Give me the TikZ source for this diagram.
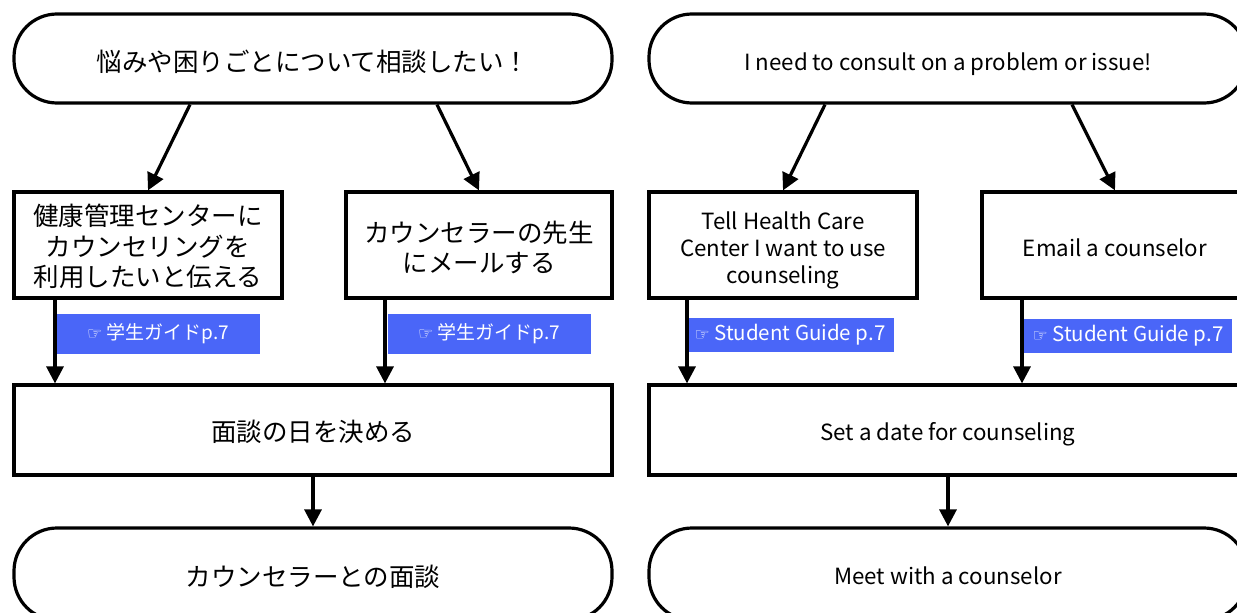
\documentclass[tikz,border=0pt]{standalone}
\usepackage{fontspec}
\setmainfont{Noto Sans CJK JP}
\newfontfamily\symfont{DejaVu Sans}
\usetikzlibrary{arrows.meta,calc}
\definecolor{labelblue}{RGB}{74,102,248}
\newcommand{\dn}[2][4pt]{\raisebox{-#1}[\height][\depth]{\begin{tabular}{@{}c@{}}#2\end{tabular}}}
\newcommand{\hand}{{\symfont\fontsize{17}{18}\selectfont ☞}}
\tikzset{
  base/.style={draw=black, line width=3.2pt, fill=white, align=center, inner sep=0pt},
  term/.style={base, rounded corners=43pt, minimum width=598pt},
  procbox/.style={base, rectangle},
  jp/.style={font=\fontsize{25.5}{30}\selectfont},
  en/.style={font=\fontsize{22.3}{27}\selectfont},
  tag/.style={fill=labelblue, text=white, inner sep=0pt},
  jptag/.style={tag, font=\fontsize{19}{21}\selectfont, minimum width=203pt, minimum height=40pt},
  entag/.style={tag, font=\fontsize{20.5}{22}\selectfont, minimum width=207pt, minimum height=34pt},
  arr/.style={line width=3.2pt, -{Triangle[length=17pt,width=17pt]}}
}
\begin{document}
\begin{tikzpicture}[x=1pt,y=-1pt]
\clip (0,0) rectangle (1237,613);
\fill[white] (0,0) rectangle (1237,613);

% ---------- Left (Japanese) ----------
\node[term, jp, minimum height=89pt] (t1) at (313,58.5) {\dn[7pt]{悩みや困りごとについて相談したい！}};
\node[procbox, jp, minimum width=268pt, minimum height=106pt] (b1) at (148,245) {\dn[5pt]{健康管理センターに\\カウンセリングを\\利用したいと伝える}};
\node[procbox, jp, minimum width=266pt, minimum height=106pt] (b2) at (479,245) {\dn[6pt]{カウンセラーの先生\\にメールする}};
\node[procbox, jp, minimum width=598pt, minimum height=90pt] (b3) at (313,430) {\dn[5pt]{面談の日を決める}};
\node[term, jp, minimum height=92pt] (t2) at (313,574) {\dn[6pt]{カウンセラーとの面談}};

\node[jptag] (l1) at (158,333.5) {\hand\ 学生ガイドp.7};
\node[jptag] (l2) at (489,333.5) {\hand\ 学生ガイドp.7};

\draw[arr] ([xshift=-123pt]t1.south) -- (b1.north);
\draw[arr] ([xshift=124pt]t1.south) -- (b2.north);
\draw[arr] ([xshift=-93pt]b1.south) -- ([xshift=-93pt]b1.south |- b3.north);
\draw[arr] ([xshift=-94pt]b2.south) -- ([xshift=-94pt]b2.south |- b3.north);
\draw[arr] (b3.south) -- (t2.north);

% ---------- Right (English) ----------
\node[term, en, minimum height=89pt] (t3) at (948,58.5) {\dn[7pt]{I need to consult on a problem or issue!}};
\node[procbox, en, minimum width=268pt, minimum height=106pt] (b4) at (783,245) {\dn[6pt]{Tell Health Care\\Center I want to use\\counseling}};
\node[procbox, en, minimum width=266pt, minimum height=106pt] (b5) at (1115,245) {\dn[6pt]{Email a counselor}};
\node[procbox, en, minimum width=598pt, minimum height=90pt] (b6) at (948,430) {\dn[5pt]{Set a date for counseling}};
\node[term, en, minimum height=92pt] (t4) at (948,574) {\dn[5pt]{Meet with a counselor}};

\node[entag] (l3) at (790,334.5) {\hand\ Student Guide p.7};
\node[entag, minimum width=208pt] (l4) at (1128,336) {\hand\ Student Guide p.7};

\draw[arr] ([xshift=-123pt]t3.south) -- (b4.north);
\draw[arr] ([xshift=124pt]t3.south) -- (b5.north);
\draw[arr] ([xshift=-96pt]b4.south) -- ([xshift=-96pt]b4.south |- b6.north);
\draw[arr] ([xshift=-93pt]b5.south) -- ([xshift=-93pt]b5.south |- b6.north);
\draw[arr] (b6.south) -- (t4.north);
\end{tikzpicture}
\end{document}
